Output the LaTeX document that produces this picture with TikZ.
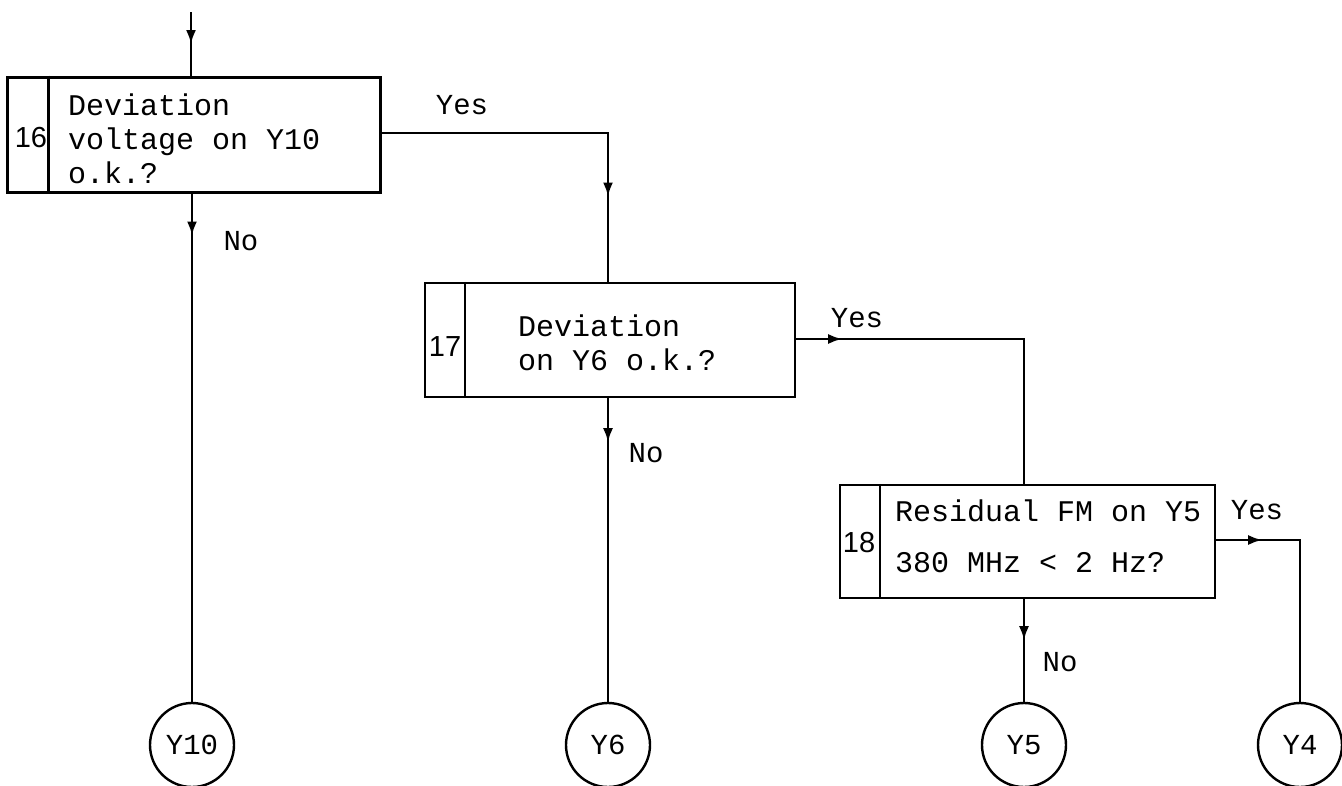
\documentclass[tikz,border=0pt]{standalone}
\usepackage{fontspec}
\setmonofont{Liberation Mono}
\newfontfamily\numfont{Liberation Sans}
\usetikzlibrary{arrows.meta,decorations.markings}
\tikzset{
  boxnode/.style={draw,line width=2.4pt,rectangle,inner sep=0pt},
  txt/.style={font=\ttfamily\fontsize{30}{34}\selectfont,inner sep=0pt,align=left},
  lbl/.style={font=\ttfamily\fontsize{29}{34}\selectfont,inner sep=0pt},
  num/.style={font=\numfont\fontsize{29}{30}\selectfont,inner sep=0pt},
  conn/.style={line width=2.4pt},
  arrowat/.style={postaction={decorate},decoration={markings,
     mark=at position #1 with {\arrow{Latex[length=14pt,width=10pt]}}}},
  term/.style={draw,circle,line width=2.4pt,minimum size=84pt,inner sep=0pt,
     font=\ttfamily\fontsize{29}{34}\selectfont}
}
\begin{document}
\begin{tikzpicture}[x=1pt,y=-1pt]
\useasboundingbox (0,0) rectangle (1342,785);
% boxes
\node[boxnode,line width=3pt,minimum width=373pt,minimum height=115pt] (b16) at (193.5,134.5) {};
\node[boxnode,minimum width=370pt,minimum height=114pt] (b17) at (610,340) {};
\node[boxnode,minimum width=375pt,minimum height=113pt] (b18) at (1027.5,541.5) {};
\draw[line width=2.4pt] ([xshift=43]b16.north west) -- ([xshift=43]b16.south west);
\draw[line width=2pt] ([xshift=41]b17.north west) -- ([xshift=41]b17.south west);
\draw[line width=2pt] ([xshift=41]b18.north west) -- ([xshift=41]b18.south west);
% numbers
\node[num] (n16) at (31,138) {16};
\node[num] (n17) at (445,347) {17};
\node[num] (n18) at (859,543) {18};
% box texts
\node[txt,anchor=west] (t16) at (68,138.5) {Deviation\\voltage on Y10\\o.k.?};
\node[txt,anchor=west] (t17) at (518,342.5) {Deviation\\on Y6 o.k.?};
\node[txt,anchor=west] (t18) at (895,536) {Residual FM on Y5\\[17pt]380 MHz < 2 Hz?};
% terminals
\node[term] (y10) at (192,745) {Y10};
\node[term] (y6) at (608,745) {Y6};
\node[term] (y5) at (1024,745) {Y5};
\node[term] (y4) at (1300,745) {Y4};
% connectors
\coordinate (start) at (191,12);
\draw[conn,arrowat=32pt] (start) -- (start |- b16.north);
\draw[conn,arrowat=290pt] (b16.east |- 0,133) -| (y6 |- b17.north);
\draw[conn,arrowat=42pt] (b16.south -| y10) -- (y10);
\draw[conn,arrowat=46pt] (b17.east |- 0,339) -| (y5 |- b18.north);
\draw[conn,arrowat=44pt] (b17.south -| y6) -- (y6);
\draw[conn,arrowat=46pt] (b18.east |- 0,540) -| (y4);
\draw[conn,arrowat=41pt] (b18.south -| y5) -- (y5);
% labels
\node[lbl] (yes16) at (462,105) {Yes};
\node[lbl] (no16) at (241,241) {No};
\node[lbl] (yes17) at (857,318) {Yes};
\node[lbl] (no17) at (646,453) {No};
\node[lbl] (yes18) at (1257,510) {Yes};
\node[lbl] (no18) at (1060,662) {No};
\end{tikzpicture}
\end{document}
